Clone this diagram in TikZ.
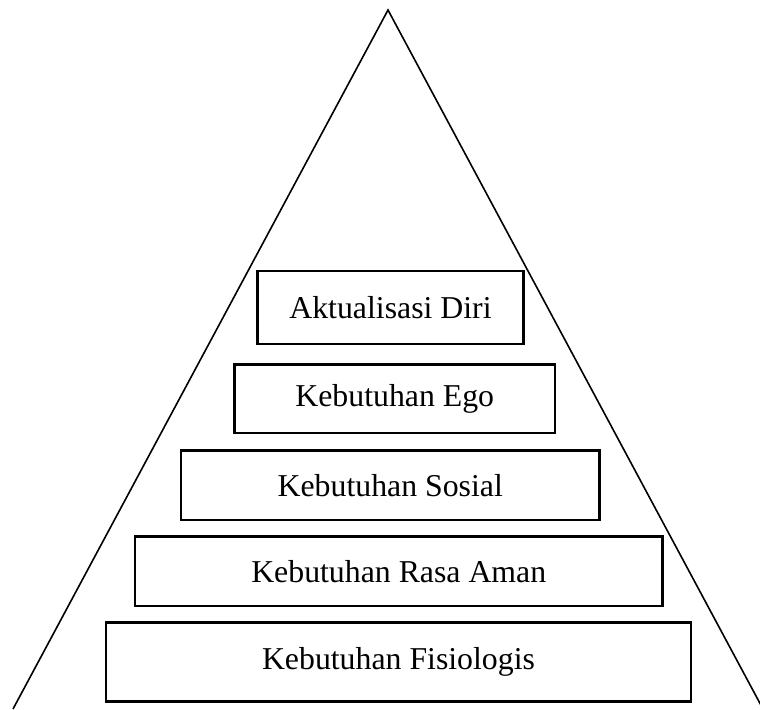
\documentclass[tikz,border=0pt]{standalone}
\usepackage{fontspec}
\setmainfont{Liberation Serif}
\begin{document}
\begin{tikzpicture}[x=0.5pt,y=-0.5pt,
  level/.style={draw=black,line width=1.1pt,fill=white,inner sep=0pt,
    font=\fontsize{15.9}{19}\selectfont},
  side/.style={draw=black,line width=0.8pt}]
\clip (0,0) rectangle (760,709);
\useasboundingbox (0,0) rectangle (760,709);
\coordinate (apex) at (388,10);
\coordinate (bl) at (13,709);
\coordinate (br) at (763,709);
\draw[side] (bl) -- (apex) -- (br);
\node[level,minimum width=133pt,minimum height=36.5pt] (a) at (390.5,307.5) {Aktualisasi Diri};
\node[level,minimum width=160.25pt,minimum height=34.25pt] (b) at (394.75,398.75) {Kebutuhan Ego};
\node[level,minimum width=209.25pt,minimum height=34.75pt] (c) at (390.25,485.25) {Kebutuhan Sosial};
\node[level,minimum width=263.75pt,minimum height=34.75pt] (d) at (398.75,571.25) {Kebutuhan Rasa Aman};
\node[level,minimum width=292.5pt,minimum height=39.5pt] (e) at (398.5,662) {Kebutuhan Fisiologis};
\end{tikzpicture}
\end{document}
